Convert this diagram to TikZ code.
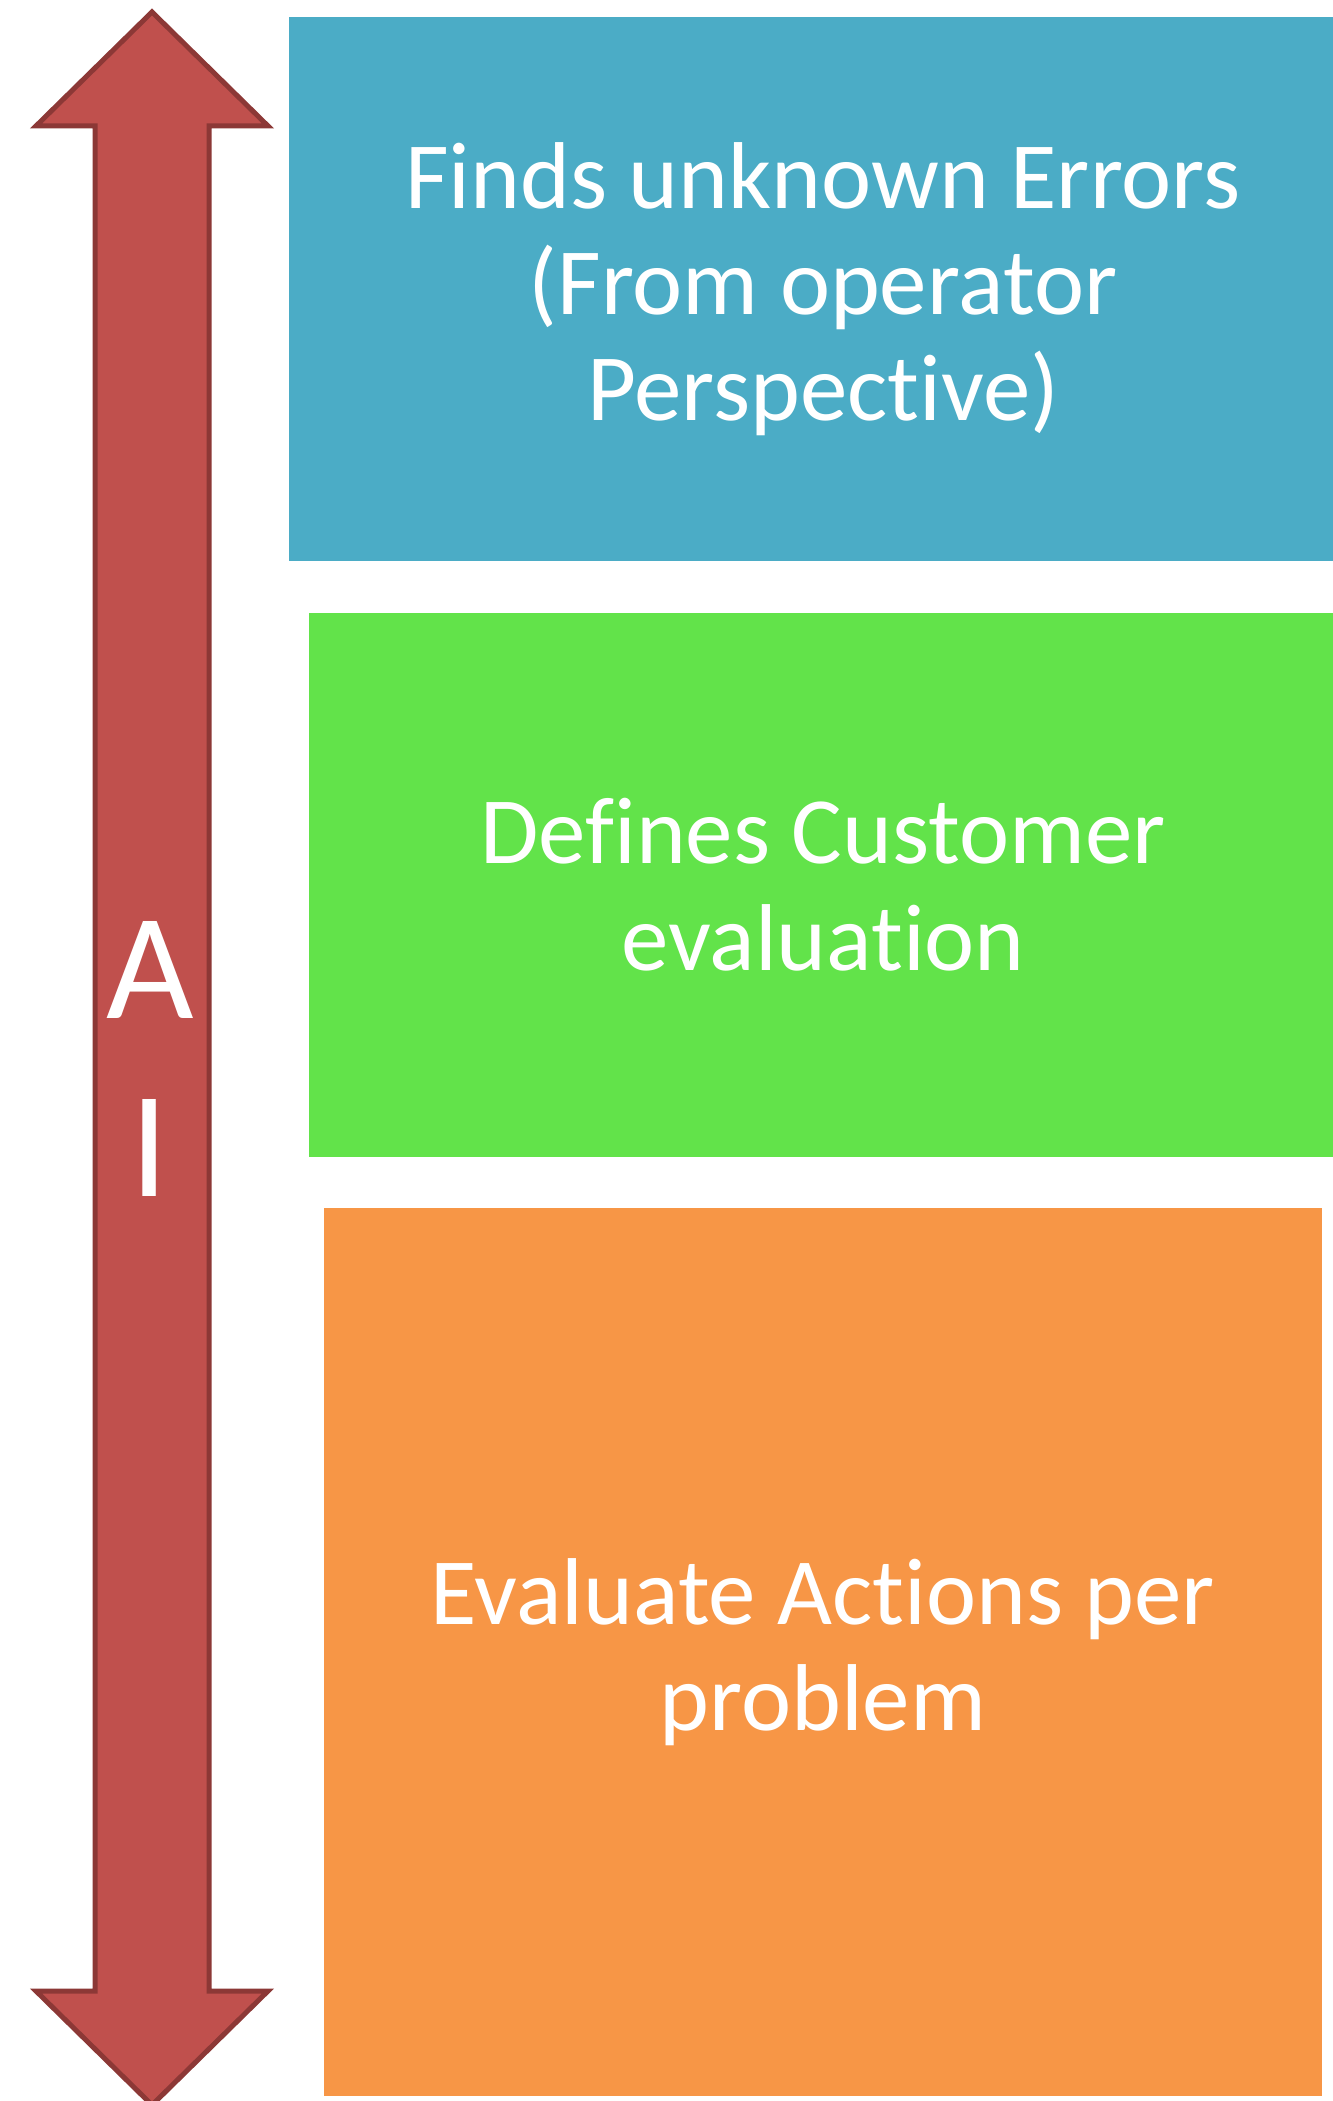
\documentclass[tikz,border=0pt]{standalone}
\usepackage{fontspec}
\setmainfont{Carlito}[Ligatures=NoCommon]
\usepackage{tikz}
\usetikzlibrary{positioning}
\definecolor{ArrowRed}{HTML}{C0504D}
\definecolor{ArrowEdge}{HTML}{8C3836}
\definecolor{StageBlue}{HTML}{4BACC6}
\definecolor{StageGreen}{HTML}{62E34A}
\definecolor{StageOrange}{HTML}{F79646}
\tikzset{
  every node/.style={
    font=\fontsize{27}{30.2}\selectfont
  },
  stage/.style={
    shape=rectangle,
    fill=#1,
    text=white,
    align=center,
    inner sep=0pt
  },
  ai arrow/.style={
    draw=ArrowEdge,
    fill=ArrowRed,
    line width=0.05cm
  }
}

\begin{document}
\begin{tikzpicture}[x=0.01cm,y=-0.01cm]
  \useasboundingbox (0,0) rectangle (1332,2101);
  % double arrow on the left
  \draw[ai arrow] (152,12) -- (268,126) -- (209,126) -- (209,1991)
    -- (268,1991) -- (152,2105) -- (36,1991) -- (95,1991)
    -- (95,126) -- (36,126) -- cycle;
  \node[text=white, align=center, inner sep=0pt,
    font=\fontsize{43}{50.6}\selectfont] (ailabel) at (150,1059) {A\\I};
  % stacked stages
  \node[stage=StageBlue, minimum width=10.68cm, minimum height=5.44cm]
    (errors) at (823,289) {Finds unknown Errors\\(From operator\\Perspective)};
  \node[stage=StageGreen, minimum width=10.28cm, minimum height=5.44cm,
    below=0.5cm of errors] (customer) {Defines Customer\\evaluation};
  \node[stage=StageOrange, minimum width=9.98cm, minimum height=8.87cm,
    below=0.5cm of customer] (actions) {Evaluate Actions per\\problem};
\end{tikzpicture}
\end{document}
